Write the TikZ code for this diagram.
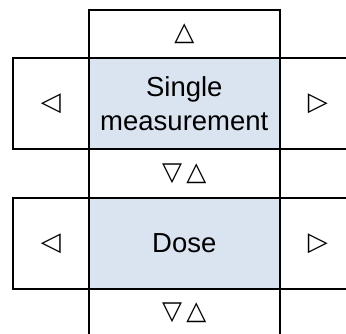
\documentclass[tikz,border=0pt]{standalone}
\usepackage{fontspec}
\setmainfont{Liberation Sans}
\newfontfamily\symfont{DejaVu Sans}
\definecolor{boxblue}{HTML}{DAE3F0}
\begin{document}
\begin{tikzpicture}[x=1pt,y=-1pt,
  cell/.style={draw=black, line width=1.6pt, inner sep=0pt, anchor=north west,
    font=\fontsize{27.5}{34}\selectfont, align=center},
  wide/.style={cell, minimum width=191pt},
  side/.style={cell, minimum width=76pt, minimum height=91pt},
  mainbox/.style={wide, minimum height=91pt, fill=boxblue},
  sym/.style={font=\symfont\fontsize{26}{30}\selectfont}]
\useasboundingbox (0,0) rectangle (346,334);
\clip (0,0) rectangle (346,334);
\node[wide, minimum height=48pt, sym] (up1) at (88,9) {△};
\node[side, sym] (left1) at (12,57) {◁};
\node[side, sym] (right1) at (279,57) {▷};
\node[mainbox] (main1) at (88,57) {Single\\measurement};
\node[wide, minimum height=49pt, sym] (mid) at (88,148) {▽\,△};
\node[side, sym] (left2) at (12,197) {◁};
\node[side, sym] (right2) at (279,197) {▷};
\node[mainbox] (main2) at (88,197) {Dose};
\node[wide, minimum height=48pt, sym] (bot) at (88,288) {▽\,△};
\end{tikzpicture}
\end{document}
